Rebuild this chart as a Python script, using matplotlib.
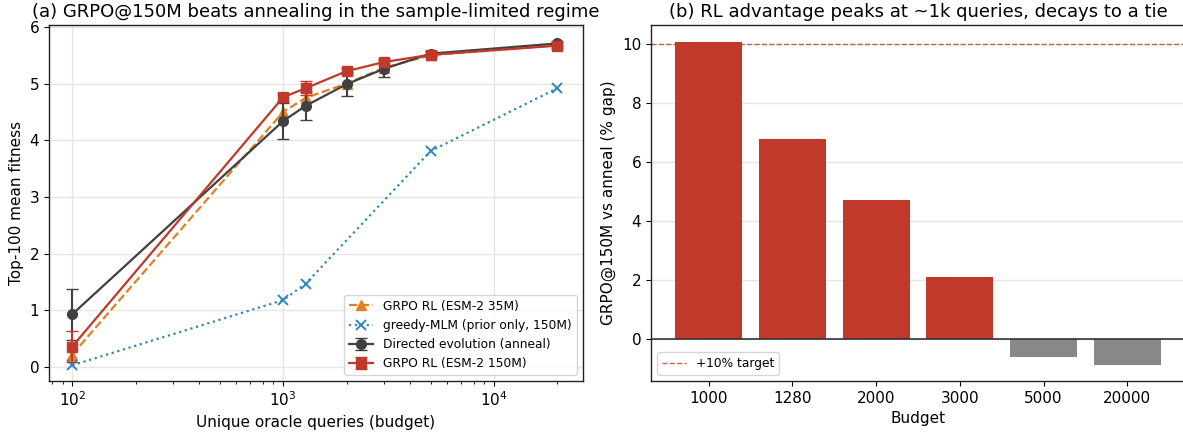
import matplotlib
matplotlib.use("Agg")
import matplotlib.pyplot as plt
import numpy as np

# ---- data ----
budgets = [100, 1000, 1280, 2000, 3000, 5000, 20000]
grpo35 = [0.22, 4.50, 4.75, 5.00, 5.28, 5.50, 5.68]
mlm_budgets = [100, 1000, 1280, 5000, 20000]
mlm = [0.03, 1.18, 1.47, 3.81, 4.92]
anneal = [0.93, 4.34, 4.61, 4.99, 5.26, 5.53, 5.71]
anneal_err = [0.45, 0.31, 0.25, 0.21, 0.15, 0.05, 0.04]
grpo150 = [0.36, 4.76, 4.92, 5.22, 5.38, 5.51, 5.67]
grpo150_err = [0.28, 0.06, 0.12, 0.05, 0.05, 0.04, 0.04]

bar_labels = ["1000", "1280", "2000", "3000", "5000", "20000"]
gap_pct = [10.09, 6.79, 4.70, 2.10, -0.60, -0.90]
target = 10

C_ORANGE = "#e67e22"
C_BLUE = "#2e86c1"
C_DARK = "#404040"
C_RED = "#c0392b"
C_GRAY = "#888888"

W, H = 1183, 432
fig = plt.figure(figsize=(W / 100, H / 100), dpi=100)

ax1 = fig.add_axes([49 / W, 1 - 381 / H, (583 - 49) / W, (381 - 25) / H])
ax2 = fig.add_axes([651 / W, 1 - 381 / H, (1185 - 651) / W, (381 - 25) / H])

for ax in (ax1, ax2):
    for s in ax.spines.values():
        s.set_color("#222222")
        s.set_linewidth(1.0)
    ax.tick_params(labelsize=11)

# ---- left panel ----
ax1.plot(budgets, grpo35, color=C_ORANGE, ls="--", lw=1.6, marker="^", ms=7,
         label="GRPO RL (ESM-2 35M)")
ax1.plot(mlm_budgets, mlm, color=C_BLUE, ls=":", lw=1.6, marker="x", ms=7,
         mew=1.4, label="greedy-MLM (prior only, 150M)")
ax1.errorbar(budgets, anneal, yerr=anneal_err, color=C_DARK, lw=1.6, marker="o",
             ms=7, capsize=4, elinewidth=1.5, label="Directed evolution (anneal)")
ax1.errorbar(budgets, grpo150, yerr=grpo150_err, color=C_RED, lw=1.6, marker="s",
             ms=7, capsize=4, elinewidth=1.5, label="GRPO RL (ESM-2 150M)")
ax1.set_xscale("log")
ax1.set_xlim(10 ** 1.89, 10 ** 4.422)
ax1.set_ylim(-0.247, 6.035)
ax1.grid(True, color="#e6e6e6", lw=1.0)
ax1.set_axisbelow(True)
ax1.set_xlabel("Unique oracle queries (budget)", fontsize=11)
ax1.set_ylabel("Top-100 mean fitness", fontsize=11)
ax1.set_title("(a) GRPO@150M beats annealing in the sample-limited regime", fontsize=13)
ax1.legend(loc="lower right", fontsize=8.8)

# ---- right panel ----
x = np.arange(len(bar_labels))
colors = [C_RED if v > 0 else C_GRAY for v in gap_pct]
ax2.bar(x, gap_pct, color=colors, width=0.8)
ax2.axhline(0, color="#333333", lw=1.2)
ax2.axhline(target, color=C_RED, ls="--", lw=1.0, alpha=0.8, label="+10% target")
ax2.set_xticks(x)
ax2.set_xticklabels(bar_labels)
ax2.set_xlim(-0.69, 5.69)
ax2.set_ylim(-1.43, 10.66)
ax2.yaxis.grid(True, color="#e6e6e6", lw=1.0)
ax2.set_axisbelow(True)
ax2.set_xlabel("Budget", fontsize=11)
ax2.set_ylabel("GRPO@150M vs anneal (% gap)", fontsize=11)
ax2.set_title("(b) RL advantage peaks at ~1k queries, decays to a tie", fontsize=13)
ax2.legend(loc="lower left", fontsize=8.8)

fig.savefig("out.png", dpi=100)
